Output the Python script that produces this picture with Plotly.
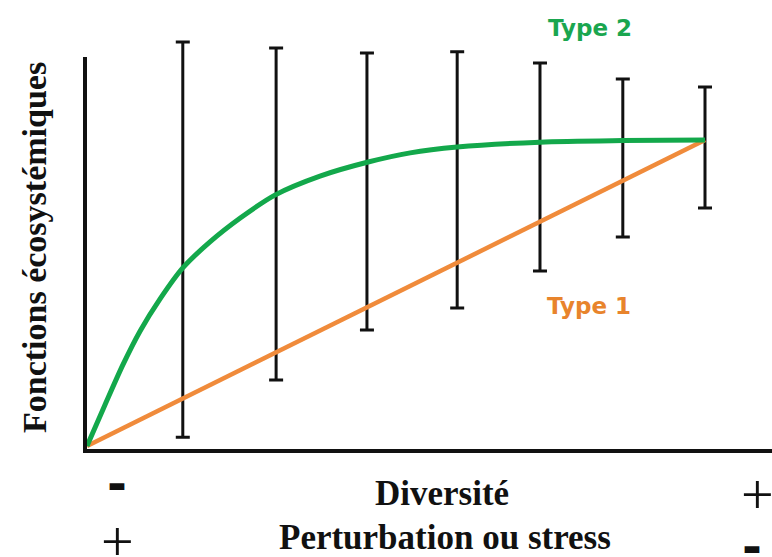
import plotly.graph_objects as go

# Diversity positions (arbitrary units, 0 = origin, 10 = maximum diversity)
bar_x = [1.55, 3.06, 4.53, 5.99, 7.33, 8.67, 10.0]
# Range of ecosystem functions observed at each diversity level
bar_low = [0.29, 2.16, 3.79, 4.51, 5.72, 6.83, 7.78]
bar_high = [13.20, 13.01, 12.84, 12.88, 12.52, 11.99, 11.73]

# Type 2: saturating response
type2_x = [0.0, 0.29, 0.58, 0.86, 1.18, 1.55, 1.99, 2.48, 3.04, 3.77, 4.55, 5.23, 5.99, 7.33, 8.67, 10.0]
type2_y = [0.0, 1.34, 2.65, 3.76, 4.80, 5.82, 6.67, 7.45, 8.20, 8.82, 9.28, 9.58, 9.77, 9.93, 9.98, 10.0]
# Type 1: linear response
type1_x = [0.0, 10.0]
type1_y = [0.0, 10.0]

W, H = 772, 557
L, R, T, B = 84, 0, 20, 105
PW, PH = W - L - R, H - T - B


def px(x):
    return (x - L) / PW


def py(y):
    return (H - B - y) / PH


mid = [(lo + hi) / 2 for lo, hi in zip(bar_low, bar_high)]
half = [(hi - lo) / 2 for lo, hi in zip(bar_low, bar_high)]

fig = go.Figure()
fig.add_trace(go.Scatter(
    x=bar_x, y=mid, mode="markers",
    marker=dict(size=1, color="rgba(0,0,0,0)"),
    error_y=dict(type="data", array=half, symmetric=True,
                 color="#111111", thickness=3, width=7),
    hoverinfo="skip", showlegend=False,
))
fig.add_trace(go.Scatter(
    x=type1_x, y=type1_y, mode="lines",
    line=dict(color="#f08b3b", width=4.5), showlegend=False,
))
fig.add_trace(go.Scatter(
    x=type2_x, y=type2_y, mode="lines", line_shape="spline",
    line=dict(color="#13a84b", width=5, smoothing=0.8), showlegend=False,
))

# axis lines
fig.add_shape(type="line", xref="paper", yref="paper",
              x0=px(85), x1=px(85), y0=py(57), y1=py(453),
              line=dict(color="#111111", width=4))
fig.add_shape(type="line", xref="paper", yref="paper",
              x0=px(83), x1=px(772), y0=py(451), y1=py(451),
              line=dict(color="#111111", width=4))

serif = "Liberation Serif"
sans = "DejaVu Sans"
ink = "#111111"
ann = [
    dict(text="<b>Type 2</b>", x=590, y=28, font=dict(family=sans, size=23, color="#1aa64f")),
    dict(text="<b>Type 1</b>", x=589, y=306, font=dict(family=sans, size=23, color="#e8842c")),
    dict(text="<b>Diversité</b>", x=442, y=493, font=dict(family=serif, size=35, color=ink)),
    dict(text="<b>Perturbation ou stress</b>", x=445, y=537, font=dict(family=serif, size=35, color=ink)),
    dict(text="<b>-</b>", x=117, y=483, font=dict(family=sans, size=48, color=ink)),
    dict(text="+", x=117, y=541, font=dict(family=serif, size=58, color=ink)),
    dict(text="+", x=757, y=494, font=dict(family=serif, size=58, color=ink)),
    dict(text="<b>-</b>", x=752, y=546, font=dict(family=sans, size=48, color=ink)),
    dict(text="<b>Fonctions écosystémiques</b>", x=34, y=248, textangle=-90,
         font=dict(family=serif, size=34, color=ink)),
]
for a in ann:
    fig.add_annotation(
        text=a["text"], x=px(a["x"]), y=py(a["y"]), xref="paper", yref="paper",
        xanchor="center", yanchor="middle", showarrow=False, font=a["font"],
        textangle=a.get("textangle", 0),
    )

fig.update_layout(
    width=W, height=H, margin=dict(l=L, r=R, t=T, b=B),
    paper_bgcolor="white", plot_bgcolor="white",
    xaxis=dict(range=[(L - 87) / 61.8, (W - 87) / 61.8], visible=False, fixedrange=True),
    yaxis=dict(range=[-(H - B - 446) / 30.6, (446 - T) / 30.6], visible=False, fixedrange=True),
    showlegend=False,
)

fig.write_html("out.html")
